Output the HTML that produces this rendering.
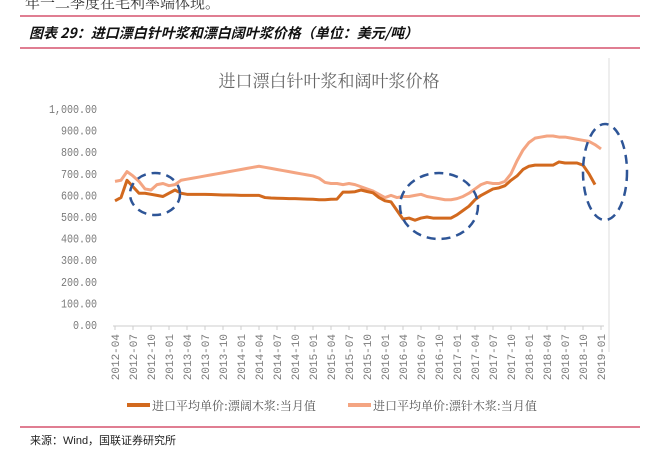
<!DOCTYPE html>
<html><head><meta charset="utf-8"><style>
body{margin:0;background:#fff;width:657px;height:453px;overflow:hidden;font-family:"Liberation Sans","Noto Sans CJK SC",sans-serif;}
</style></head><body>
<svg width="657" height="453" style="position:absolute;left:0;top:0">
<text x="25" y="8" font-size="15" fill="#333" font-family="Noto Serif CJK SC, serif">年一二季度在毛利率端体现。</text>
<line x1="20" y1="16" x2="640" y2="16" stroke="#d6546e" stroke-width="1.5"/>
<text x="29" y="38" font-size="14" font-weight="bold" font-style="italic" fill="#111" font-family="Noto Sans CJK SC, sans-serif">图表 29：进口漂白针叶浆和漂白阔叶浆价格（单位：美元/吨）</text>
<line x1="20" y1="48" x2="640" y2="48" stroke="#d6546e" stroke-width="1.5"/>
<line x1="609" y1="58" x2="609" y2="352" stroke="#ddd" stroke-width="1"/>
<text x="329" y="87" font-size="17" fill="#666" text-anchor="middle" font-family="Noto Serif CJK SC, serif">进口漂白针叶浆和阔叶浆价格</text>
<g id="yaxis"></g><g id="xaxis"></g><g id="series"></g>
<g fill="none" stroke="#2e5597" stroke-width="2.5" stroke-dasharray="9,6">
<ellipse cx="155" cy="194" rx="25" ry="21"/>
<ellipse cx="439" cy="206" rx="39" ry="33"/>
<ellipse cx="605" cy="172" rx="22" ry="48"/>
</g>
<g font-family="Noto Serif CJK SC, serif">
<line x1="127" y1="405" x2="150" y2="405" stroke="#d2691e" stroke-width="4"/>
<text x="152" y="410" font-size="12" fill="#555">进口平均单价:漂阔木浆:当月值</text>
<line x1="348" y1="405" x2="371" y2="405" stroke="#f4a582" stroke-width="4"/>
<text x="373" y="410" font-size="12" fill="#555">进口平均单价:漂针木浆:当月值</text>
</g>
<line x1="20" y1="427" x2="640" y2="427" stroke="#d6546e" stroke-width="1.5"/>
<text x="30" y="444" font-size="11" fill="#222">来源：Wind，国联证券研究所</text>
</svg>
<script>
const yTicks=[0,100,200,300,400,500,600,700,800,900,1000];
const yTickLabels=["0.00","100.00","200.00","300.00","400.00","500.00","600.00","700.00","800.00","900.00","1,000.00"];
const xTickLabels=["2012-04","2012-07","2012-10","2013-01","2013-04","2013-07","2013-10","2014-01","2014-04","2014-07","2014-10","2015-01","2015-04","2015-07","2015-10","2016-01","2016-04","2016-07","2016-10","2017-01","2017-04","2017-07","2017-10","2018-01","2018-04","2018-07","2018-10","2019-01"];
const hardwood=[575,590,670,640,610,610,605,600,595,610,625,610,605,605,605,605,604,603,602,602,601,600,600,600,600,590,588,587,586,585,585,584,583,582,580,580,582,583,615,615,617,625,618,612,590,575,570,530,490,495,485,495,500,495,495,495,495,510,530,550,580,600,615,630,635,645,670,690,720,735,740,740,740,740,755,750,750,750,740,700,650];
const softwood=[665,670,710,690,665,630,625,650,655,645,650,670,675,680,685,690,695,700,705,710,715,720,725,730,735,730,725,720,715,710,705,700,695,690,680,660,655,655,650,655,650,640,630,620,605,590,600,590,595,595,600,605,595,590,585,580,580,585,595,610,630,650,660,655,655,665,700,760,810,845,865,870,875,875,870,870,865,860,855,850,835,815];
const NS='http://www.w3.org/2000/svg';
const x0=115,dx=6,yBase=325,yScale=0.216;
function X(i){return x0+i*dx;}
function Y(v){return yBase-v*yScale;}
const ya=document.getElementById('yaxis');
yTicks.forEach((t,i)=>{const e=document.createElementNS(NS,'text');
e.setAttribute('x',97);e.setAttribute('y',Y(t)+4);e.setAttribute('font-size','12');e.setAttribute('fill','#7a7a7a');e.setAttribute('text-anchor','end');e.setAttribute('font-family','Liberation Mono, monospace');
e.setAttribute('textLength',yTickLabels[i].length*6);e.setAttribute('lengthAdjust','spacingAndGlyphs');


e.textContent=yTickLabels[i];ya.appendChild(e);});
const xa=document.getElementById('xaxis');
const ax=document.createElementNS(NS,'line');
ax.setAttribute('x1',113);ax.setAttribute('x2',604);ax.setAttribute('y1',yBase+1);ax.setAttribute('y2',yBase+1);ax.setAttribute('stroke','#ccc');


xa.appendChild(ax);
xTickLabels.forEach((l,i)=>{const px=X(i*3);
const tk=document.createElementNS(NS,'line');tk.setAttribute('x1',px);tk.setAttribute('x2',px);tk.setAttribute('y1',yBase+1);tk.setAttribute('y2',yBase+5);tk.setAttribute('stroke','#ccc');


xa.appendChild(tk);
const e=document.createElementNS(NS,'text');
e.setAttribute('transform','translate('+(px+4)+','+(yBase+9)+') rotate(-90)');e.setAttribute('font-size','11');e.setAttribute('fill','#7a7a7a');e.setAttribute('text-anchor','end');e.setAttribute('font-family','Liberation Mono, monospace');


e.textContent=l;xa.appendChild(e);});
const sg=document.getElementById('series');
function line(data,color,name){const p=document.createElementNS(NS,'polyline');
p.setAttribute('points',data.map((v,i)=>X(i)+','+Y(v)).join(' '));
p.setAttribute('fill','none');p.setAttribute('stroke',color);p.setAttribute('stroke-width','3');p.setAttribute('stroke-linejoin','round');


sg.appendChild(p);}
line(softwood,'#f4a582','softwood-line');
line(hardwood,'#d2691e','hardwood-line');
</script>
</body></html>
